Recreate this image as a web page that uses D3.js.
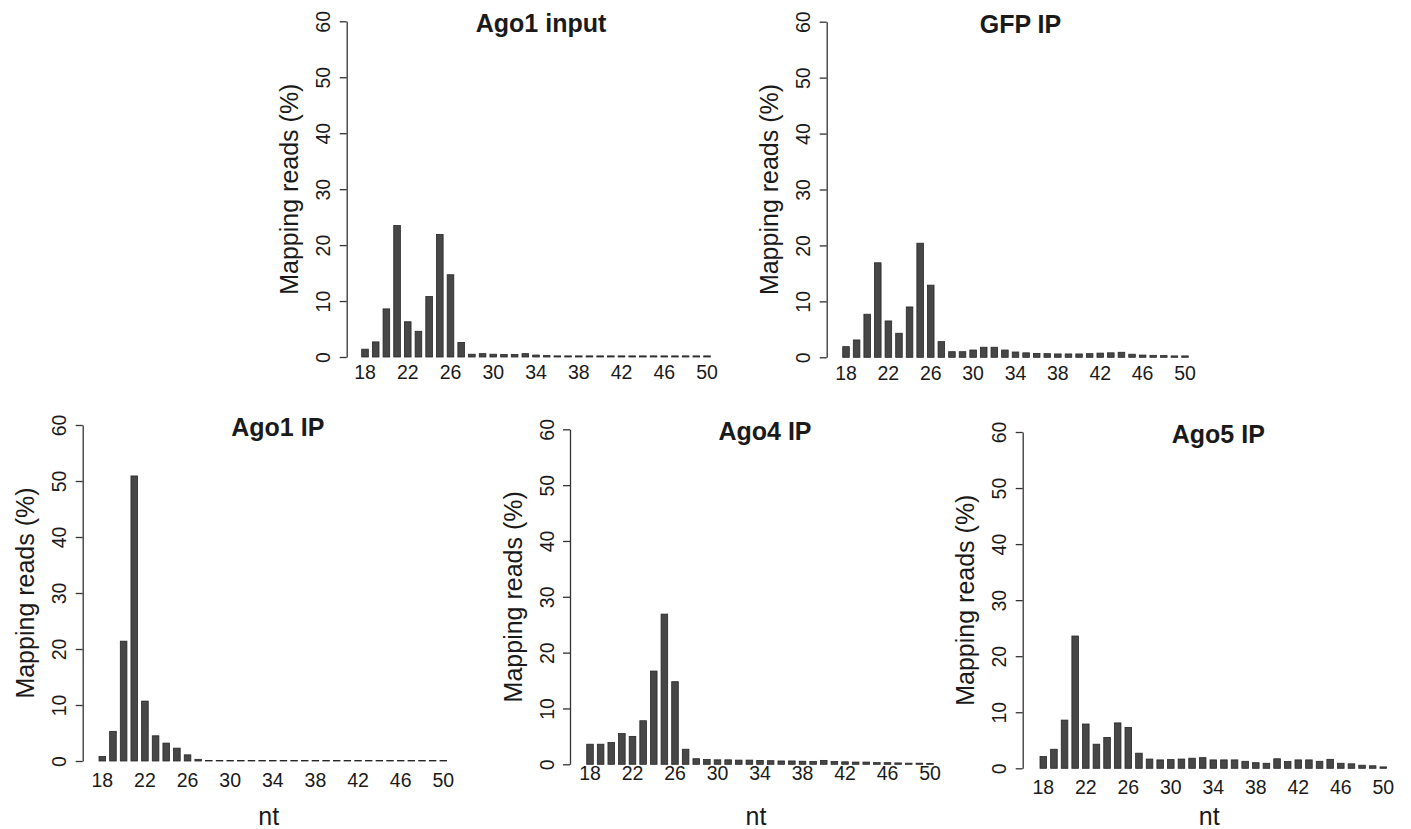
<!DOCTYPE html>
<html>
<head>
<meta charset="utf-8">
<script src="https://cdn.jsdelivr.net/npm/d3@7"></script>
<style>
  body { margin: 0; background: #fff; }
  svg { display: block; font-family: "Liberation Sans", Arial, Helvetica, sans-serif; }
</style>
</head>
<body>
<div id="chart"></div>
<script>
// read lengths (nt) and % of mapping reads per library
var lengths = [18, 19, 20, 21, 22, 23, 24, 25, 26, 27, 28, 29, 30, 31, 32, 33, 34,
  35, 36, 37, 38, 39, 40, 41, 42, 43, 44, 45, 46, 47, 48, 49, 50];
var xTickLabels = [18, 22, 26, 30, 34, 38, 42, 46, 50];
var yTicks = [0, 10, 20, 30, 40, 50, 60];

var ago1Input = [1.4, 2.7, 8.6, 23.5, 6.3, 4.6, 10.8, 21.9, 14.7, 2.6,
  0.5, 0.6, 0.5, 0.45, 0.45, 0.6, 0.35,
  0.25, 0.2, 0.2, 0.2, 0.2, 0.2, 0.2, 0.2, 0.2, 0.2, 0.2, 0.2, 0.2, 0.2, 0.2, 0.2];
var gfpIP = [1.9, 3.1, 7.7, 16.9, 6.5, 4.3, 9.0, 20.4, 12.9, 2.8,
  1.0, 1.0, 1.3, 1.8, 1.8, 1.3, 0.95,
  0.8, 0.7, 0.65, 0.6, 0.6, 0.6, 0.65, 0.75, 0.8, 0.9, 0.55, 0.4, 0.35, 0.3, 0.25, 0.25];
var ago1IP = [0.8, 5.3, 21.4, 50.9, 10.7, 4.5, 3.2, 2.3, 1.1, 0.3,
  0.1, 0.1, 0.1, 0.1, 0.1, 0.1, 0.1, 0.1, 0.1, 0.1, 0.1, 0.1,
  0.1, 0.1, 0.1, 0.1, 0.1, 0.1, 0.1, 0.1, 0.1, 0.1, 0.1];
var ago4IP = [3.6, 3.6, 3.9, 5.5, 5.0, 7.8, 16.7, 26.9, 14.8, 2.7,
  1.0, 0.85, 0.8, 0.8, 0.75, 0.75, 0.7, 0.65, 0.6, 0.6, 0.55, 0.5,
  0.7, 0.5, 0.45, 0.4, 0.4, 0.3, 0.3, 0.25, 0.2, 0.2, 0.15];
var ago5IP = [2.1, 3.4, 8.6, 23.6, 7.9, 4.3, 5.5, 8.1, 7.3, 2.7,
  1.65, 1.5, 1.55, 1.65, 1.8, 1.9, 1.5, 1.5, 1.5, 1.25, 1.0, 0.9,
  1.7, 1.2, 1.5, 1.5, 1.25, 1.6, 0.9, 0.8, 0.55, 0.45, 0.25];

var width = 1411, height = 829;

// where each panel sits on the page
var panels = [
  { title: "Ago1 input", values: ago1Input, axisX: 346.7, y0: 357, y60: 21.3, c18: 365, c50: 707, labOff: 14.7, nt: false },
  { title: "GFP IP", values: gfpIP, axisX: 826.7, y0: 357.3, y60: 21.7, c18: 846, c50: 1185, labOff: 16, nt: false },
  { title: "Ago1 IP", values: ago1IP, axisX: 82.7, y0: 761, y60: 425, c18: 102.3, c50: 443.3, labOff: 19, nt: true },
  { title: "Ago4 IP", values: ago4IP, axisX: 570, y0: 764.3, y60: 429.3, c18: 590, c50: 930, labOff: 9, nt: true },
  { title: "Ago5 IP", values: ago5IP, axisX: 1022.7, y0: 768.3, y60: 432, c18: 1043.3, c50: 1383.3, labOff: 18.4, nt: true }
];

var svg = d3.select("#chart").append("svg")
  .attr("width", width)
  .attr("height", height);

panels.forEach(function (p) {
  var g = svg.append("g");

  var step = (p.c50 - p.c18) / (lengths.length - 1);
  var x = d3.scaleBand()
    .domain(lengths)
    .range([p.c18 - step / 2, p.c50 + step / 2])
    .paddingInner(0.38)
    .paddingOuter(0.19);

  var y = d3.scaleLinear().domain([0, 60]).range([p.y0, p.y60]);

  // bars
  g.selectAll("rect.bar")
    .data(p.values)
    .enter()
    .append("rect")
    .attr("class", "bar")
    .attr("x", function (d, i) { return x(lengths[i]); })
    .attr("width", x.bandwidth())
    .attr("y", function (d) { return y(d); })
    .attr("height", function (d) { return y(0) - y(d); })
    .style("fill", "#474747")
    .style("stroke", "#262626")
    .style("stroke-width", 0.8);

  // y axis
  var yAxis = d3.axisLeft(y).tickValues(yTicks).tickSize(7).tickSizeOuter(0);
  var ya = g.append("g")
    .attr("transform", "translate(" + p.axisX + ",0)")
    .call(yAxis);
  ya.select(".domain").attr("stroke", "#333").attr("stroke-width", 1.3);
  ya.selectAll(".tick line").attr("stroke", "#333").attr("stroke-width", 1.3);
  ya.selectAll(".tick text")
    .attr("transform", "rotate(-90)")
    .attr("x", 0)
    .attr("y", -16.5)
    .attr("dy", null)
    .attr("text-anchor", "middle")
    .attr("fill", "#1a1a1a")
    .style("font-size", "19.5px")
    .style("font-family", "'Liberation Sans', Arial, sans-serif");

  // x tick labels (no axis line, like R barplot)
  g.selectAll("text.xlab")
    .data(xTickLabels)
    .enter()
    .append("text")
    .attr("class", "xlab")
    .attr("x", function (d) { return x(d) + x.bandwidth() / 2; })
    .attr("y", p.y0 + p.labOff + 7)
    .attr("text-anchor", "middle")
    .style("font-size", "19.5px")
    .style("fill", "#1a1a1a")
    .text(function (d) { return d; });

  // y label
  var yc = (p.y0 + p.y60) / 2;
  g.append("text")
    .attr("transform", "translate(" + (p.axisX - 48.5) + "," + yc + ") rotate(-90)")
    .attr("text-anchor", "middle")
    .style("font-size", "25px")
    .style("fill", "#1a1a1a")
    .text("Mapping reads (%)");

  // title
  g.append("text")
    .attr("x", (p.c18 + p.c50) / 2 + 5)
    .attr("y", p.y60 + 11)
    .attr("text-anchor", "middle")
    .style("font-size", "25px")
    .style("font-weight", "bold")
    .style("fill", "#1a1a1a")
    .text(p.title);

  // x label on the bottom row
  if (p.nt) {
    g.append("text")
      .attr("x", (p.c18 + p.c50) / 2 - 4)
      .attr("y", 825)
      .attr("text-anchor", "middle")
      .style("font-size", "25px")
      .style("fill", "#1a1a1a")
      .text("nt");
  }
});
</script>
</body>
</html>
